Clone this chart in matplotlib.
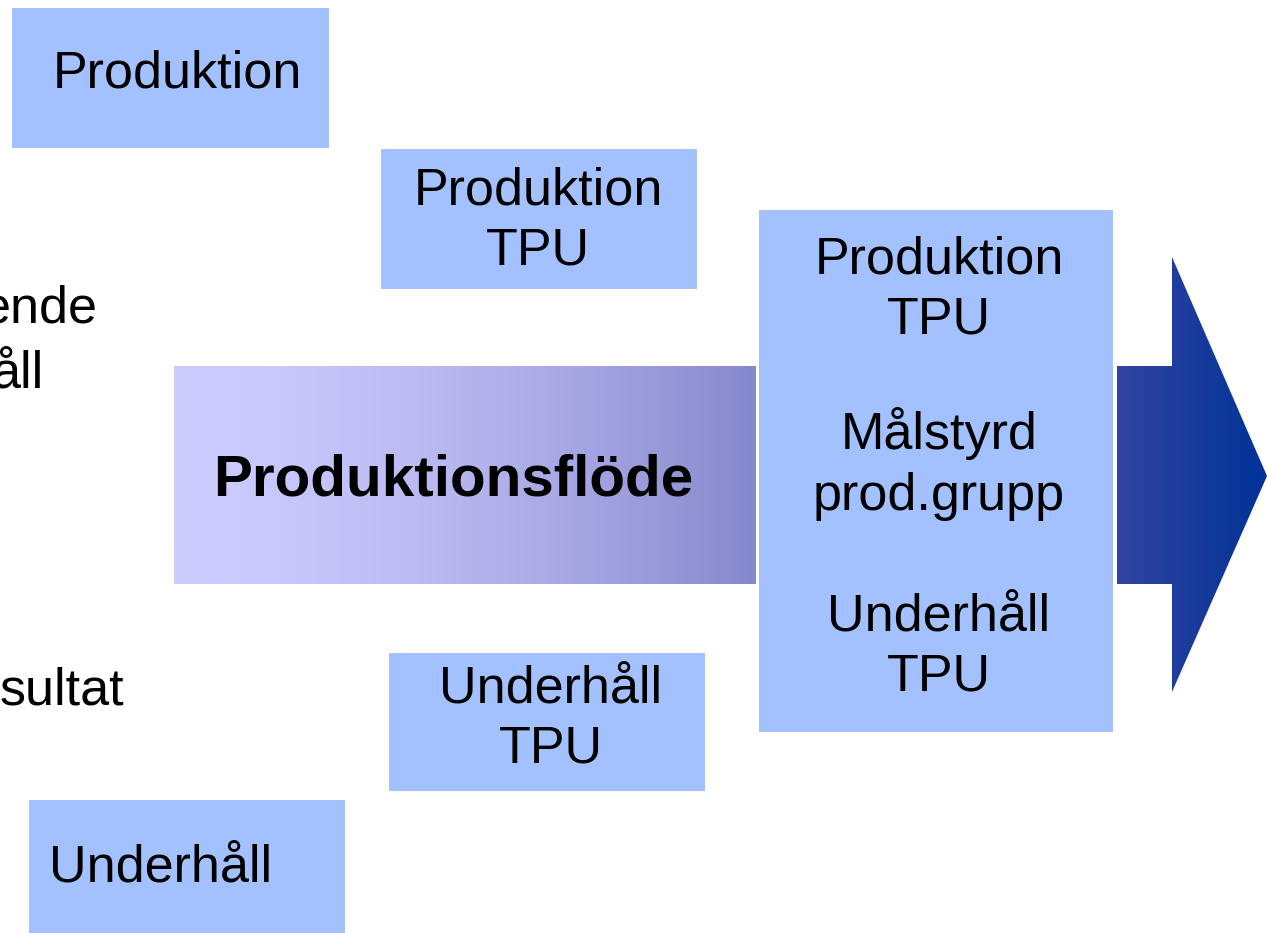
import numpy as np
import matplotlib
matplotlib.use('Agg')
import matplotlib.pyplot as plt
from matplotlib.patches import Rectangle, Polygon

plt.rcParams['font.family'] = ['Liberation Sans', 'DejaVu Sans']

# Texts in the diagram
box_labels = ["Produktion", "Produktion\nTPU", "Underhåll\nTPU", "Underhåll"]
right_labels = ["Produktion\nTPU", "Målstyrd\nprod.grupp", "Underhåll\nTPU"]
center_label = "Produktionsflöde"
cut_labels = ["ende", "åll", "sultat"]

# Layout in pixel units (x0, y0, x1, y1) and text centre
box_layout = [(12, 8, 329, 148, 177, 74),
              (381, 149, 697, 289, 538, 221),
              (389, 653, 705, 791, 551, 719),
              (29, 800, 345, 940, 161, 868)]
right_box = (759, 210, 1113, 732)
right_text_y = [290, 464, 647]
cut_layout = [(98, 309), (44, 374), (124, 691)]

box_color = '#a3c1fe'
ls = 1.3

W, H = 1267, 933
fig = plt.figure(figsize=(W / 100, H / 100), dpi=100)
ax = fig.add_axes([0, 0, 1, 1])
ax.set_xlim(0, W)
ax.set_ylim(H, 0)
ax.axis('off')

for lab, (x0, y0, x1, y1, tx, ty) in zip(box_labels, box_layout):
    ax.add_patch(Rectangle((x0, y0), x1 - x0, y1 - y0, color=box_color, lw=0))
    ax.text(tx, ty, lab, ha='center', va='center', fontsize=37.5,
            linespacing=ls, ma='center')

x0, y0, x1, y1 = right_box
ax.add_patch(Rectangle((x0, y0), x1 - x0, y1 - y0, color=box_color, lw=0))
for lab, ty in zip(right_labels, right_text_y):
    ax.text((x0 + x1) / 2 + 3, ty, lab, ha='center', va='center',
            fontsize=37.5, linespacing=ls, ma='center')

for lab, (tx, ty) in zip(cut_labels, cut_layout):
    ax.text(tx, ty, lab, ha='right', va='center', fontsize=37.5)

# gradient bar (stays light longer on the left)
c_left = np.array([0xcc, 0xcc, 0xff]) / 255
c_right = np.array([0x86, 0x88, 0xcc]) / 255
t = np.linspace(0, 1, 256)
tb = t ** 1.6
grad = np.outer(np.ones(2), tb)[..., None] * (c_right - c_left) + c_left
ax.imshow(grad, extent=(174, 756, 584, 366), aspect='auto', zorder=1)
ax.text(453, 480, center_label, ha='center', va='center', fontsize=42,
        fontweight='bold', zorder=3)

# arrow with gradient
a_left = np.array([0x33, 0x44, 0xa0]) / 255
a_right = np.array([0x00, 0x33, 0x99]) / 255
agrad = np.outer(np.ones(2), t)[..., None] * (a_right - a_left) + a_left
arrow_pts = [(1117, 366), (1172, 366), (1172, 257), (1267, 476),
             (1172, 692), (1172, 584), (1117, 584)]
poly = Polygon(arrow_pts, closed=True, facecolor='none', edgecolor='none')
ax.add_patch(poly)
im = ax.imshow(agrad, extent=(1117, 1267, 692, 257), aspect='auto', zorder=1)
im.set_clip_path(poly)

ax.set_xlim(0, W)
ax.set_ylim(H, 0)
fig.savefig('out.png', dpi=100, facecolor='white')
